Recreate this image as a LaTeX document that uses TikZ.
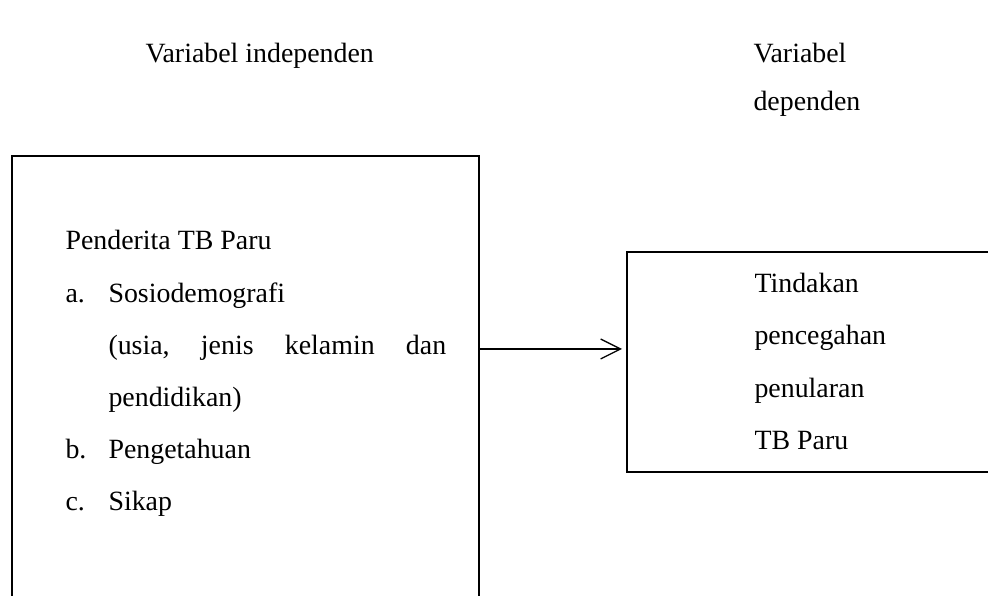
\documentclass[tikz,border=0pt]{standalone}
\usepackage{fontspec}
\setmainfont{Liberation Serif}
\usetikzlibrary{arrows.meta}
\begin{document}
\begin{tikzpicture}[x=0.382pt,y=-0.382pt,
  txt/.style={anchor=base west,inner sep=0pt,font=\fontsize{10.65}{13}\selectfont},
  frame/.style={line width=0.65pt},
  link/.style={line width=0.5pt,-{Straight Barb[length=7.6pt,width=7.6pt]}}]
\useasboundingbox (0,0) rectangle (988,596);
% left box (open at the bottom)
\coordinate (ltl) at (12,156);
\coordinate (ltr) at (479,156);
\coordinate (lbl) at (12,600);
\coordinate (lbr) at (479,600);
\draw[frame] (lbl) -- (ltl) -- (ltr) -- (lbr);
% right box (open at the right)
\coordinate (rtl) at (627,252);
\coordinate (rtr) at (992,252);
\coordinate (rbl) at (627,472);
\coordinate (rbr) at (992,472);
\draw[frame] (rtr) -- (rtl) -- (rbl) -- (rbr);
% arrow
\coordinate (as) at (479,349);
\coordinate (ae) at (622,349);
\draw[link] (as) -- (ae);
% headers
\node[txt] (h1) at (145,63) {Variabel independen};
\node[txt] (h2) at (753,63) {Variabel};
\node[txt] (h3) at (753,111) {dependen};
% left box text
\node[txt] (t0) at (65,250) {Penderita TB Paru};
\node[txt] (la) at (65,303) {a.};
\node[txt] (ta) at (108,303) {Sosiodemografi};
\node[txt] (tb) at (108,355) {\hbox to 129pt{(usia,\hfill jenis\hfill kelamin\hfill dan}};
\node[txt] (tc) at (108,407) {pendidikan)};
\node[txt] (lb) at (65,459) {b.};
\node[txt] (td) at (108,459) {Pengetahuan};
\node[txt] (lc) at (65,511) {c.};
\node[txt] (te) at (108,511) {Sikap};
% right box text
\node[txt] (r1) at (754,293) {Tindakan};
\node[txt] (r2) at (754,345) {pencegahan};
\node[txt] (r3) at (754,398) {penularan};
\node[txt] (r4) at (754,450) {TB Paru};
\end{tikzpicture}
\end{document}
